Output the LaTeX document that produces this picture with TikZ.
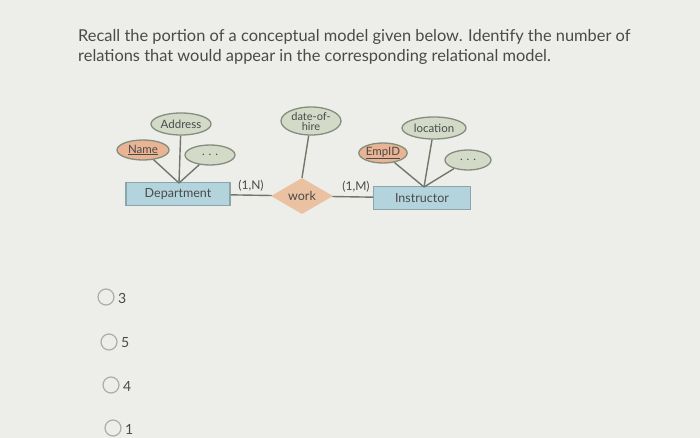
\documentclass[tikz,border=0pt]{standalone}
\usepackage{fontspec}
\setmainfont{Lato}
\usepackage{tikz}
\usetikzlibrary{shapes.geometric}

\definecolor{attrfill}{HTML}{D3DAC8}
\definecolor{attrline}{HTML}{858D7D}
\definecolor{keyfill}{HTML}{E8B493}
\definecolor{entfill}{HTML}{B3D4DC}
\definecolor{entline}{HTML}{8AA5AB}
\definecolor{relfill}{HTML}{EAC1A1}
\definecolor{pagebg}{HTML}{EDEDEA}
\definecolor{txt}{HTML}{4A4A4A}

\tikzset{
  attr/.style={ellipse, draw=attrline, fill=attrfill, line width=1.3pt, inner sep=0pt,
    font=\fontsize{11.5}{11}\selectfont, text=txt},
  keyattr/.style={attr, fill=keyfill},
  entity/.style={rectangle, draw=entline, fill=entfill, line width=1.2pt,
    font=\fontsize{12.5}{13}\selectfont, text=txt},
  rel/.style={diamond, fill=relfill, inner sep=0pt, aspect=1.8,
    font=\fontsize{12.5}{13}\selectfont, text=txt},
  card/.style={font=\fontsize{12}{12}\selectfont, text=txt},
  radio/.style={circle, draw=gray!65, line width=1.2pt, minimum size=16pt, inner sep=0pt},
  opt/.style={font=\fontsize{14}{14}\selectfont, text=txt, anchor=west, inner sep=0pt},
  link/.style={draw=attrline!85!black, line width=1.4pt}
}

\begin{document}
\begin{tikzpicture}[x=1pt,y=-1pt]

\fill[pagebg] (0,0) rectangle (700,438);
\useasboundingbox (0,0) rectangle (700,438);

\node[anchor=north west, align=left, text=txt, inner sep=0pt,
  font=\fontsize{16.4}{20}\selectfont] (question) at (78,29)
  {Recall the portion of a conceptual model given below. Identify the number of\\
   relations that would appear in the corresponding relational model.};

% Department side
\node[entity, minimum width=104pt, minimum height=23pt] (dept) at (178,194) {Department};
\node[attr, minimum width=60pt, minimum height=22pt] (addr) at (181,124) {Address};
\node[keyattr, minimum width=52pt, minimum height=20pt] (name) at (143,150) {\underline{Name}};
\node[attr, minimum width=50pt, minimum height=20pt] (more1) at (210,155) {. . .};

% relationship
\node[rel, minimum width=62pt, minimum height=36pt] (work) at (302,196) {work};
\node[attr, minimum width=60pt, minimum height=28pt, align=center,
  font=\fontsize{11}{10}\selectfont] (doh) at (311,121) {date-of-\\hire};

% Instructor side
\node[entity, minimum width=97pt, minimum height=23pt] (instr) at (422,198) {Instructor};
\node[attr, minimum width=64pt, minimum height=22pt] (loc) at (434,128) {location};
\node[keyattr, minimum width=44pt, minimum height=20pt] (emp) at (383,153) {\underline{EmpID}};
\node[attr, minimum width=46pt, minimum height=20pt] (more2) at (468,160) {. . .};

\node[card] (c1) at (251,186) {(1,N)};
\node[card] (c2) at (356,187) {(1,M)};

\coordinate (dtop) at (179,183);
\coordinate (itop) at (424,187);

\draw[link] (name) -- (dtop);
\draw[link] (addr) -- (dtop);
\draw[link] (more1) -- (dtop);
\draw[link] (emp) -- (itop);
\draw[link] (loc) -- (itop);
\draw[link] (more2) -- (itop);
\draw[link] (doh) -- (work.north);
\draw[link] (dept) -- (work);
\draw[link] (work) -- (instr);

% answer options
\node[radio] (r3) at (106,297) {};
\node[opt] (o3) at (118,298) {3};
\node[radio] (r5) at (109,342) {};
\node[opt] (o5) at (121,343) {5};
\node[radio] (r4) at (111,385) {};
\node[opt] (o4) at (123,386) {4};
\node[radio] (r1) at (113,428) {};
\node[opt] (o1) at (125,429) {1};

\end{tikzpicture}
\end{document}
